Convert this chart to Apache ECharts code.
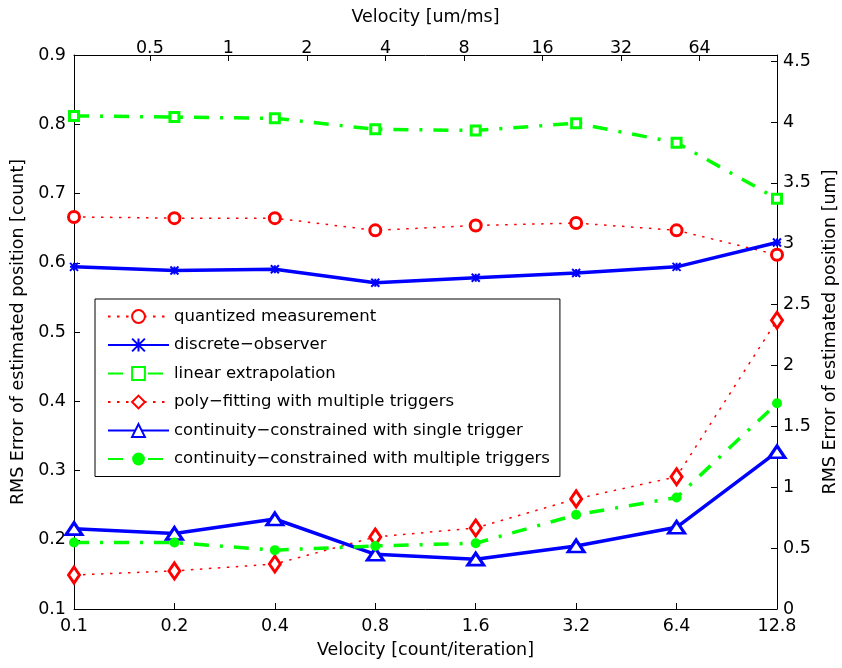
<!DOCTYPE html>
<html>
<head>
<meta charset="utf-8">
<script src="https://cdn.jsdelivr.net/npm/echarts@6/dist/echarts.min.js"></script>
<style>
  html, body { margin: 0; padding: 0; background: #fff; }
  #chart { width: 842px; height: 668px; }
</style>
</head>
<body>
<div id="chart"></div>
<script>
  // velocity in count/iteration (bottom axis)
  var velocityCount = ['0.1', '0.2', '0.4', '0.8', '1.6', '3.2', '6.4', '12.8']
  // right axis series [um]
  var quantized = [3.22, 3.21, 3.21, 3.11, 3.15, 3.17, 3.11, 2.91]
  var discreteObserver = [2.81, 2.78, 2.79, 2.68, 2.72, 2.76, 2.81, 3.01]
  var linearExtrap = [4.05, 4.04, 4.03, 3.94, 3.93, 3.99, 3.83, 3.37]
  // left axis series [count]
  var polyFitting = [0.149, 0.155, 0.165, 0.204, 0.217, 0.259, 0.291, 0.517]
  var ccSingle = [0.216, 0.209, 0.230, 0.179, 0.172, 0.191, 0.218, 0.327]
  var ccMultiple = [0.196, 0.196, 0.185, 0.191, 0.195, 0.236, 0.261, 0.397]
  // top axis range, velocity in um/ms
  var velocityUmRange = [0.256, 126.7]

  var font = 'DejaVu Sans, sans-serif'
  var red = '#ff0000', blue = '#0000ff', green = '#00ff00'
  var dotted = [2.5, 6.5]
  var dashDot = [15, 11, 3, 11]
  var asterisk = 'path://M0,0L10,10M10,0L0,10M5,0L5,10M0,5L10,5'

  var axisText = { color: '#000', fontFamily: font, fontSize: 17.5 }
  var nameText = { color: '#000', fontFamily: font, fontSize: 17.5 }
  var blackLine = { lineStyle: { color: '#000', width: 1 } }

  var chart = echarts.init(document.getElementById('chart'), null, { renderer: 'canvas' })
  var option = {
    animation: false,
    backgroundColor: '#fff',
    grid: { left: 74, right: 65, top: 55, bottom: 59, containLabel: false, outerBoundsMode: 'none' },
    legend: {
      orient: 'vertical',
      left: 95,
      top: 299,
      padding: [9, 10, 9, 12],
      itemGap: 11.5,
      itemWidth: 61,
      itemHeight: 16,
      backgroundColor: '#fff',
      borderColor: '#000',
      borderWidth: 1,
      textStyle: { color: '#000', fontFamily: font, fontSize: 16.5 },
      data: ['quantized measurement', 'discrete\u2212observer', 'linear extrapolation',
        'poly\u2212fitting with multiple triggers', 'continuity\u2212constrained with single trigger',
        'continuity\u2212constrained with multiple triggers']
    },
    xAxis: [{
      type: 'category',
      position: 'bottom',
      data: velocityCount,
      boundaryGap: false,
      name: 'Velocity [count/iteration]',
      nameLocation: 'middle',
      nameGap: 32,
      nameTextStyle: nameText,
      axisLine: blackLine,
      axisTick: { inside: true, length: 6, alignWithLabel: true, lineStyle: { color: '#000' } },
      axisLabel: Object.assign({ margin: 8 }, axisText),
      splitLine: { show: false }
    }, {
      type: 'log',
      logBase: 2,
      position: 'top',
      min: velocityUmRange[0],
      max: velocityUmRange[1],
      name: 'Velocity [um/ms]',
      nameLocation: 'middle',
      nameGap: 29,
      nameTextStyle: nameText,
      axisLine: blackLine,
      axisTick: { inside: true, length: 6, lineStyle: { color: '#000' } },
      axisLabel: Object.assign({ margin: -2, showMinLabel: false, showMaxLabel: false }, axisText),
      splitLine: { show: false }
    }],
    yAxis: [{
      type: 'value',
      position: 'left',
      min: 0.1,
      max: 0.9,
      interval: 0.1,
      name: 'RMS Error of estimated position [count]',
      nameLocation: 'middle',
      nameGap: 45,
      nameTextStyle: nameText,
      axisLine: Object.assign({ show: true }, blackLine),
      axisTick: { show: true, inside: true, length: 6, lineStyle: { color: '#000' } },
      axisLabel: Object.assign({ margin: 8 }, axisText),
      splitLine: { show: false }
    }, {
      type: 'value',
      position: 'right',
      min: 0,
      max: 4.55,
      interval: 0.5,
      name: 'RMS Error of estimated position [um]',
      nameLocation: 'middle',
      nameGap: 42,
      nameTextStyle: nameText,
      axisLine: Object.assign({ show: true }, blackLine),
      axisTick: { show: true, inside: true, length: 6, lineStyle: { color: '#000' } },
      axisLabel: Object.assign({ margin: 6, showMaxLabel: false }, axisText),
      splitLine: { show: false }
    }],
    series: [{
      name: 'quantized measurement',
      type: 'line',
      yAxisIndex: 1,
      data: quantized,
      symbol: 'circle',
      symbolSize: 11,
      lineStyle: { color: red, width: 1.5, type: dotted },
      itemStyle: { color: '#fff', borderColor: red, borderWidth: 3 }
    }, {
      name: 'discrete\u2212observer',
      type: 'line',
      yAxisIndex: 1,
      data: discreteObserver,
      symbol: asterisk,
      symbolSize: 8,
      lineStyle: { color: blue, width: 3.5 },
      itemStyle: { color: blue, borderColor: blue, borderWidth: 2 }
    }, {
      name: 'linear extrapolation',
      type: 'line',
      yAxisIndex: 1,
      data: linearExtrap,
      symbol: 'rect',
      symbolSize: 9,
      lineStyle: { color: green, width: 3.5, type: dashDot },
      itemStyle: { color: '#fff', borderColor: green, borderWidth: 3 }
    }, {
      name: 'poly\u2212fitting with multiple triggers',
      type: 'line',
      yAxisIndex: 0,
      data: polyFitting,
      symbol: 'diamond',
      symbolSize: [11, 16],
      lineStyle: { color: red, width: 1.5, type: dotted },
      itemStyle: { color: '#fff', borderColor: red, borderWidth: 3 }
    }, {
      name: 'continuity\u2212constrained with single trigger',
      type: 'line',
      yAxisIndex: 0,
      data: ccSingle,
      symbol: 'triangle',
      symbolSize: [16, 12],
      lineStyle: { color: blue, width: 3.5 },
      itemStyle: { color: '#fff', borderColor: blue, borderWidth: 3 }
    }, {
      name: 'continuity\u2212constrained with multiple triggers',
      type: 'line',
      yAxisIndex: 0,
      data: ccMultiple,
      symbol: 'circle',
      symbolSize: 10,
      lineStyle: { color: green, width: 3.5, type: dashDot },
      itemStyle: { color: green, borderColor: green, borderWidth: 0 }
    }]
  }
  chart.setOption(option)
</script>
</body>
</html>
